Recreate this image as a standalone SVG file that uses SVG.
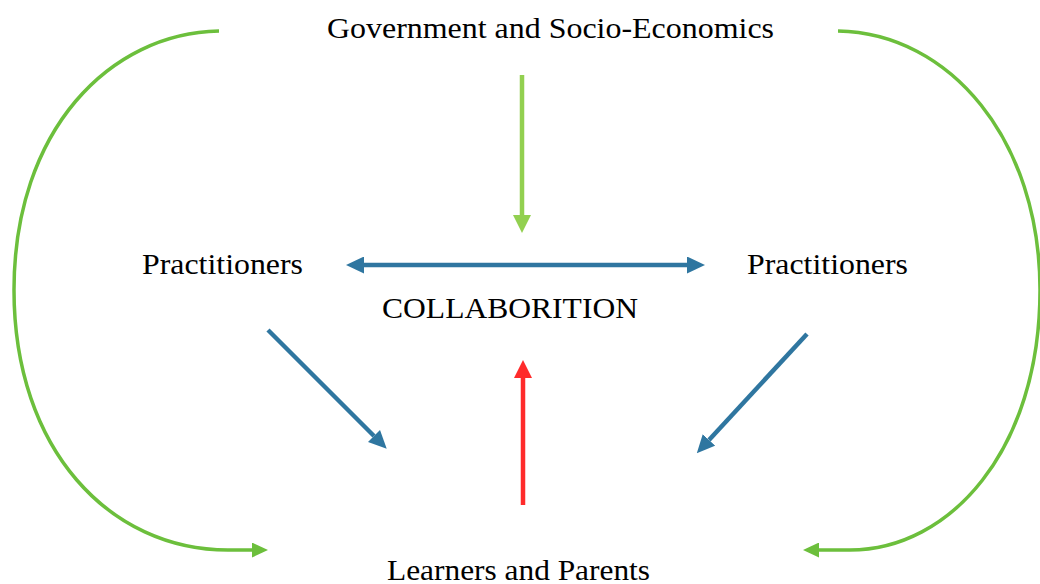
<svg xmlns="http://www.w3.org/2000/svg" width="1040" height="584" viewBox="0 0 1040 584">
<style>
text{font-family:"Liberation Serif","Times New Roman",serif;font-size:30px;fill:#000}
.g{fill:none;stroke:#6cbf3c;stroke-width:3.5}
.lg{stroke:#92d050;stroke-width:4.5}
.r{stroke:#ff2b2b;stroke-width:4.5}
.b{stroke:#2f76a0;stroke-width:4.5}
</style>
<defs>
<marker id="mg" viewBox="0 0 10 10" refX="0" refY="5" markerUnits="userSpaceOnUse" markerWidth="16" markerHeight="15" orient="auto" preserveAspectRatio="none"><path d="M0,0L10,5L0,10z" fill="#6cbf3c"/></marker>
<marker id="mlg" viewBox="0 0 10 10" refX="0" refY="5" markerUnits="userSpaceOnUse" markerWidth="18" markerHeight="18" orient="auto" preserveAspectRatio="none"><path d="M0,0L10,5L0,10z" fill="#92d050"/></marker>
<marker id="mr" viewBox="0 0 10 10" refX="0" refY="5" markerUnits="userSpaceOnUse" markerWidth="18" markerHeight="18" orient="auto" preserveAspectRatio="none"><path d="M0,0L10,5L0,10z" fill="#ff2b2b"/></marker>
<marker id="mb" viewBox="0 0 10 10" refX="0" refY="5" markerUnits="userSpaceOnUse" markerWidth="18" markerHeight="17" orient="auto-start-reverse" preserveAspectRatio="none"><path d="M0,0L10,5L0,10z" fill="#2f76a0"/></marker>
</defs>
<g id="connectors">
<path class="g" d="M219,31 C110,33 14,130 14,290 C14,450 110,550 228,550 L252,550" marker-end="url(#mg)"/>
<path class="g" d="M838,31 C950,33 1040,140 1040,290 C1040,450 950,550 850,550 L819,550" marker-end="url(#mg)"/>
<line class="lg" x1="522" y1="75" x2="522" y2="215" marker-end="url(#mlg)"/>
<line class="r" x1="523" y1="505" x2="523" y2="378" marker-end="url(#mr)"/>
<line class="b" x1="364" y1="265" x2="687" y2="265" marker-start="url(#mb)" marker-end="url(#mb)"/>
<line class="b" x1="268" y1="330" x2="374" y2="436" marker-end="url(#mb)"/>
<line class="b" x1="807" y1="334" x2="709" y2="440" marker-end="url(#mb)"/>
</g>
<g id="gov"><text x="327" y="38" textLength="447" lengthAdjust="spacingAndGlyphs">Government and Socio-Economics</text></g>
<g id="prac-left"><text x="142" y="274" textLength="161" lengthAdjust="spacingAndGlyphs">Practitioners</text></g>
<g id="prac-right"><text x="747" y="274" textLength="161" lengthAdjust="spacingAndGlyphs">Practitioners</text></g>
<g id="collab"><text x="382" y="318" textLength="256" lengthAdjust="spacingAndGlyphs">COLLABORITION</text></g>
<g id="learners"><text x="387" y="580" textLength="263" lengthAdjust="spacingAndGlyphs">Learners and Parents</text></g>
</svg>
